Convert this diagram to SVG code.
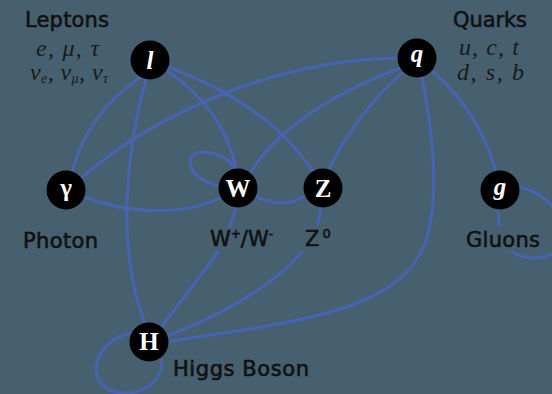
<svg xmlns="http://www.w3.org/2000/svg" width="552" height="394" viewBox="0 0 552 394">
<style>
.bg{fill:#46606f}
.e{fill:none;stroke:#4763b4;stroke-width:3;stroke-linecap:round}
.n{fill:#000}
.t{fill:#fff;font-family:"Liberation Serif",serif;font-weight:bold;font-size:25px;text-anchor:middle}
.lb{fill:#111;stroke:#111;stroke-width:0.6;font-family:"DejaVu Sans",sans-serif;font-size:21px}
.fm{fill:#1a1a1a;font-family:"Liberation Serif",serif;font-style:italic;font-size:24px}
</style>
<rect class="bg" width="552" height="394"/>
<g id="connectors">
<path class="e" d="M141,77 Q88,112 72,172"/>
<path class="e" d="M146,79 C126,150 116,250 145,323"/>
<path class="e" d="M166,70 Q225,110 236,169"/>
<path class="e" d="M168,67 Q270,105 313,172"/>
<path class="e" d="M81,178 C160,110 280,60 398,58"/>
<path class="e" d="M85,197 C130,215 190,215 221,197"/>
<path class="e" d="M220,186 C185,180 182,150 205,152 C220,153 232,162 237,170"/>
<path class="e" d="M250,173 Q290,110 400,68"/>
<path class="e" d="M402,73 Q355,115 328,171"/>
<path class="e" d="M256,196 Q282,210 305,196"/>
<path class="e" d="M236,207 L230,226 M218,252 Q190,290 162,326"/>
<path class="e" d="M321,208 L318,224 M302,252 Q260,300 167,336"/>
<path class="e" d="M422,77 C432,130 438,180 430,225 S390,295 330,312 S200,335 167,342"/>
<path class="e" d="M433,72 Q478,110 496,171"/>
<path class="e" d="M498,208 L499,226 M512,252 C525,260 550,262 562,245 C572,225 550,192 518,187"/>
<path class="e" d="M133,333 C95,338 85,380 110,390 C135,400 162,385 162,360"/>
</g>
<g id="leptons">
<circle class="n" cx="150" cy="60" r="19.5"/>
<text class="t" x="150" y="69" font-style="italic" font-size="28">l</text>
<text class="lb" x="25" y="27" textLength="84">Leptons</text>
<text class="fm" x="36" y="56" textLength="63">e, μ, τ</text>
<text class="fm" x="30" y="80" textLength="78">ν<tspan font-size="14" dy="3">e</tspan><tspan dy="-3">, ν</tspan><tspan font-size="14" dy="3">μ</tspan><tspan dy="-3">, ν</tspan><tspan font-size="14" dy="3">τ</tspan></text>
</g>
<g id="quarks">
<circle class="n" cx="417" cy="58" r="19.5"/>
<text class="t" x="417" y="62" font-style="italic">q</text>
<text class="lb" x="453" y="27" textLength="74">Quarks</text>
<text class="fm" x="459" y="55" textLength="60">u, c, t</text>
<text class="fm" x="457" y="80" textLength="67">d, s, b</text>
</g>
<g id="photon">
<circle class="n" cx="66" cy="190" r="19.5"/>
<text class="t" x="66" y="196">γ</text>
<text class="lb" x="23" y="248" textLength="75">Photon</text>
</g>
<g id="w">
<circle class="n" cx="238" cy="188" r="19.5"/>
<text class="t" x="238" y="197">W</text>
<text class="lb" x="210" y="246">W<tspan font-size="12" dy="-8">+</tspan><tspan dy="8">/W</tspan><tspan font-size="12" dy="-8">-</tspan></text>
</g>
<g id="z">
<circle class="n" cx="323" cy="188" r="19.5"/>
<text class="t" x="323" y="197">Z</text>
<text class="lb" x="305" y="246">Z<tspan font-size="13" dy="-8" dx="3">0</tspan></text>
</g>
<g id="gluon">
<circle class="n" cx="500" cy="190" r="19.5"/>
<text class="t" x="500" y="195" font-style="italic">g</text>
<text class="lb" x="466" y="247" textLength="74">Gluons</text>
</g>
<g id="higgs">
<circle class="n" cx="149" cy="342" r="19.5"/>
<text class="t" x="149" y="350" font-size="23">H</text>
<text class="lb" x="173" y="376" textLength="136">Higgs Boson</text>
</g>
</svg>
